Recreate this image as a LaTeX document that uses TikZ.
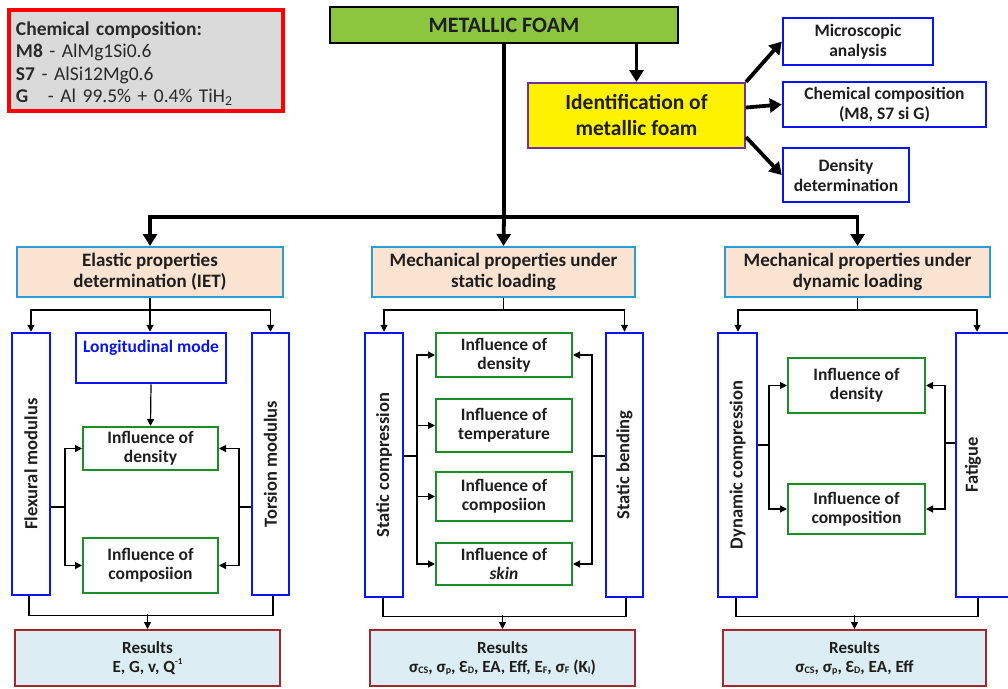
\documentclass[tikz,border=0pt]{standalone}
\usepackage{fontspec}
\setmainfont{Carlito}
\usetikzlibrary{arrows.meta}
\definecolor{cgreen}{HTML}{8CC63F}
\definecolor{cpurple}{HTML}{7030A0}
\definecolor{cblue}{HTML}{0A14F0}
\definecolor{cpeach}{HTML}{FBE3D2}
\definecolor{cpeachb}{HTML}{2E9AD4}
\definecolor{cgbox}{HTML}{1E8C28}
\definecolor{cres}{HTML}{DCEDF3}
\definecolor{cresb}{HTML}{A02830}
\definecolor{cgray}{HTML}{DADADA}
\definecolor{ctext}{HTML}{1E1E1E}
\tikzset{
  box/.style={draw, line width=2pt, inner sep=1pt, align=center, text=ctext, font=\bfseries},
  bluebox/.style={box, draw=cblue, line width=2.5pt},
  catbox/.style={box, draw=cpeachb, fill=cpeach, font=\fontsize{19}{21}\selectfont\bfseries},
  greenbox/.style={box, draw=cgbox, font=\fontsize{17.5}{19}\selectfont\bfseries},
  resbox/.style={box, draw=cresb, fill=cres, font=\fontsize{17}{19}\selectfont\bfseries},
  tallbox/.style={bluebox, font=\fontsize{18.5}{19}\selectfont\bfseries},
  big/.style={line width=3.8pt, -{Triangle[width=14pt,length=12pt]}},
  bigline/.style={line width=3.8pt},
  thin/.style={line width=1.2pt, -{Triangle[width=7pt,length=7pt]}},
  thinline/.style={line width=1.2pt},
}
\newcommand\restitle{Results}
\newcommand\sbs[1]{\raisebox{-0.1ex}{\fontsize{10}{10}\selectfont #1}}
\newcommand\sps[1]{\raisebox{0.9ex}{\fontsize{9}{9}\selectfont #1}}
\begin{document}
\begin{tikzpicture}[x=1pt,y=-1pt]
\useasboundingbox (0,0) rectangle (1008,688);
% top
\node[box, draw=red, line width=4pt, fill=cgray, minimum width=274, minimum height=101, text width=260, align=left, font=\fontsize{19.5}{22.5}\selectfont, text=ctext!95] (chem) at (146,60.5)
  {\rule{0pt}{20pt}\textbf{Chemical composition:}\\ \textbf{M8} - AlMg1Si0.6\\ \textbf{S7} - AlSi12Mg0.6\\ \textbf{G}\ \ \ - Al 99.5\% + 0.4\% TiH\textsubscript{2}};
\node[box, draw=black, fill=cgreen, minimum width=348, minimum height=36, font=\fontsize{22}{24}\selectfont\bfseries] (mf) at (504,25) {METALLIC FOAM};
\node[box, draw=cpurple, fill=yellow, minimum width=217, minimum height=65, font=\fontsize{21.5}{26}\selectfont\bfseries] (ident) at (636.5,115.5) {Identification of\\ metallic foam};
\node[bluebox, minimum width=150, minimum height=47, font=\fontsize{17.5}{20}\selectfont\bfseries] (micro) at (858,41.5) {Microscopic\\ analysis};
\node[bluebox, minimum width=203, minimum height=45, font=\fontsize{17.5}{20}\selectfont\bfseries] (chemc) at (884.5,104.5) {Chemical composition\\ (M8, S7 si G)};
\node[bluebox, minimum width=126, minimum height=54, font=\fontsize{17.5}{20}\selectfont\bfseries] (dens) at (846,175) {Density\\ determination};
% category boxes
\node[catbox, minimum width=266, minimum height=50] (el) at (150,272) {Elastic properties\\ determination (IET)};
\node[catbox, minimum width=263, minimum height=50] (st) at (503.5,272) {Mechanical properties under\\ static loading};
\node[catbox, minimum width=265, minimum height=50] (dy) at (857.5,272) {Mechanical properties under\\ dynamic loading};
% left section
\node[tallbox, minimum width=38, minimum height=262] (flex) at (31,464) {\rotatebox{90}{Flexural modulus}};
\node[tallbox, minimum width=37, minimum height=262] (tor) at (270.5,464) {\rotatebox{90}{Torsion modulus}};
\node[bluebox, minimum width=150, minimum height=50,
  label={[anchor=north, yshift=-5pt, text=cblue, font=\fontsize{17.5}{18}\selectfont\bfseries]north:Longitudinal mode}] (long) at (151,358) {};
\node[greenbox, minimum width=135, minimum height=43] (lid) at (150.5,448.5) {Influence of\\ density};
\node[greenbox, minimum width=135, minimum height=55] (lic) at (150.5,565.5) {Influence of\\ composiion};
\node[resbox, minimum width=265, minimum height=56] (resL) at (147.5,658) {\restitle\\ E, G, v, Q\sps{-1}};
% middle section
\node[tallbox, minimum width=38, minimum height=264] (scomp) at (384,465) {\rotatebox{90}{Static compression}};
\node[tallbox, minimum width=37, minimum height=264] (sbend) at (624.5,465) {\rotatebox{90}{Static bending}};
\node[greenbox, minimum width=136, minimum height=44] (sd) at (504,355) {Influence of\\ density};
\node[greenbox, minimum width=136, minimum height=53] (stt) at (504,425.5) {Influence of\\ temperature};
\node[greenbox, minimum width=136, minimum height=49] (sc) at (504,496.5) {Influence of\\ composiion};
\node[greenbox, minimum width=136, minimum height=42] (ss) at (504,564) {Influence of\\ \textit{skin}};
\node[resbox, minimum width=265, minimum height=56] (resM) at (502.5,658) {\restitle\\ σ\sbs{CS}, σ\sbs{p}, Ɛ\sbs{D}, EA, Eff, E\sbs{F}, σ\sbs{F} (K\sbs{I})};
% right section
\node[tallbox, minimum width=39, minimum height=264] (dcomp) at (737.5,465) {\rotatebox{90}{Dynamic compression}};
\node[tallbox, minimum width=56, minimum height=264,
  label={[xshift=-11pt, font=\fontsize{18.5}{19}\selectfont\bfseries, text=ctext]center:\rotatebox{90}{Fatigue}}] (fat) at (984,465) {};
\node[greenbox, minimum width=137, minimum height=55] (dd) at (856.5,385.5) {Influence of\\ density};
\node[greenbox, minimum width=137, minimum height=50] (dc) at (856.5,509) {Influence of\\ composition};
\node[resbox, minimum width=263, minimum height=56] (resR) at (854.5,658) {\restitle\\ σ\sbs{CS}, σ\sbs{p}, Ɛ\sbs{D}, EA, Eff};
% top connectors
\draw[bigline] (mf.south) -- (mf.south |- 0,217) coordinate (hub);
\draw[big] (hub) -| (el.north);
\draw[big] (hub) -- (st.north);
\draw[big] (hub) -| (dy.north);
\draw[big] (ident.north |- mf.south) -- (ident.north);
\draw[big] (ident.north east) -- (micro.west);
\draw[big] ([yshift=8pt]ident.east) -- (chemc.west);
\draw[big] ([yshift=12pt]ident.south east) -- (dens.west);
% left connectors
\draw[thinline] (el.south) -- ++(0,12) coordinate (elj);
\draw[thin] (elj) -| (flex.north);
\draw[thin] (elj) -| (tor.north);
\draw[thin] (elj) -- (long.north -| elj);
\draw[thin] (long.south) -- (lid.north);
\coordinate (fj) at (65,507);
\coordinate (tj) at (239,507);
\draw[thinline] (flex.east |- fj) -- (fj);
\draw[thin] (fj) |- (lid.west);
\draw[thin] (fj) |- (lic.west);
\draw[thinline] (tor.west |- tj) -- (tj);
\draw[thin] (tj) |- (lid.east);
\draw[thin] (tj) |- (lic.east);
\draw[thinline] ([xshift=-2pt]flex.south) -- ++(0,19) -| ([xshift=2.5pt]tor.south);
\draw[thin] (resL.north |- 0,614) -- (resL.north);
% middle connectors
\draw[thinline] (st.south) -- ++(0,12) coordinate (stj);
\draw[thin] (stj) -| (scomp.north);
\draw[thin] (stj) -| (sbend.north);
\coordinate (mj) at (417,456);
\coordinate (nj) at (592,456);
\draw[thinline] (scomp.east |- mj) -- (mj);
\draw[thin] (mj) |- (sd.west);
\draw[thin] (mj) |- (stt.west);
\draw[thin] (mj) |- (sc.west);
\draw[thin] (mj) |- (ss.west);
\draw[thinline] (sbend.west |- nj) -- (nj);
\draw[thin] (nj) |- (sd.east);
\draw[thin] (nj) |- (ss.east);
\draw[thinline] ([xshift=-1pt]scomp.south) -- ++(0,18) -| ([xshift=1.5pt]sbend.south);
\draw[thin] (resM.north |- 0,615) -- (resM.north);
% right connectors
\draw[thinline] (dy.south) -- ++(0,12) coordinate (dyj);
\draw[thin] (dyj) -| ([xshift=0.5pt]dcomp.north);
\draw[thin] (dyj) -| ([xshift=-7pt]fat.north);
\coordinate (rj) at (769,445);
\coordinate (sj) at (945,443);
\draw[thinline] (dcomp.east |- rj) -- (rj);
\draw[thin] (rj) |- (dd.west);
\draw[thin] (rj) |- (dc.west);
\draw[thinline] (fat.west |- sj) -- (sj);
\draw[thin] (sj) |- (dd.east);
\draw[thin] (sj) |- (dc.east);
\draw[thinline] ([xshift=-1.5pt]dcomp.south) -- ++(0,18) -| ([xshift=-6pt]fat.south);
\draw[thin] (resR.north |- 0,615) -- (resR.north);
\end{tikzpicture}
\end{document}
